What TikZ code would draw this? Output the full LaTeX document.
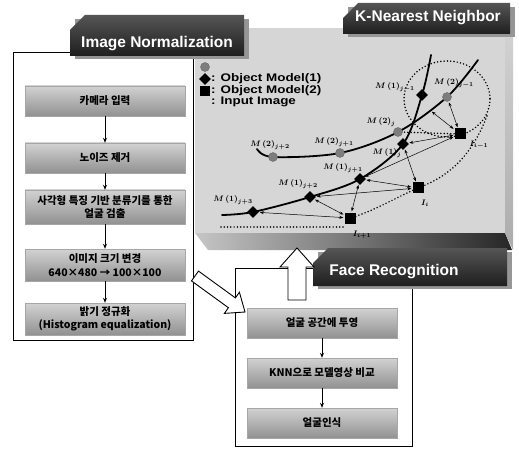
\documentclass[tikz,border=0pt]{standalone}
\usepackage{fontspec}
\usepackage{amsmath}
\usetikzlibrary{arrows.meta,positioning,shapes.geometric,calc}
\newfontfamily\krfont{Noto Sans CJK KR}
\newfontfamily\hdfont{Liberation Sans}
\definecolor{tabDark}{RGB}{30,30,30}
\definecolor{tabTop}{RGB}{85,85,85}
\definecolor{tabShade}{RGB}{150,150,150}
\definecolor{panelGray}{RGB}{214,214,214}
\definecolor{stepLight}{RGB}{210,210,210}
\definecolor{stepDark}{RGB}{145,145,145}
\definecolor{modelTwo}{RGB}{125,125,125}
\newcommand{\headTab}[4]{%
  \fill[tabShade] (#1+5,#2+4) -- (#3+5,#2+4) -- (#3+5,#4+3) -- (#1+5,#4+3) -- cycle;
  \shade[top color=tabTop,bottom color=tabDark] (#1,#4) -- (#1,#2+15) -- (#1+15,#2) -- (#3,#2) -- (#3,#4) -- cycle;}
\newcommand{\legBold}[1]{\scalebox{1.22}[1]{#1}}
\tikzset{
  tabtext/.style={text=white,font=\hdfont\bfseries\fontsize{15.5}{17}\selectfont,inner sep=0pt},
  stepbox/.style={draw=gray!70,top color=stepLight,bottom color=stepDark,minimum width=160pt,minimum height=30pt,
    align=center,inner sep=1pt,font=\krfont\bfseries\fontsize{10.5}{13.5}\selectfont},
  flowarr/.style={-{Stealth[length=5pt,width=4pt]},line width=.9pt},
  bigarr/.style={draw=black,fill=white,line width=.9pt,line join=miter},
  knnarr/.style={{Stealth[length=4pt,width=3pt]}-{Stealth[length=4pt,width=3pt]},line width=.5pt,
    shorten <=1pt,shorten >=1pt},
  dotline/.style={line width=1.7pt,line cap=round,dash pattern=on 0pt off 3.3pt},
  modelline/.style={line width=1.8pt,line cap=round},
  mcirc/.style={circle,fill=modelTwo,draw=black!60,line width=.4pt,minimum size=9pt,inner sep=0pt},
  mdiam/.style={diamond,fill=black,minimum size=12pt,inner sep=0pt},
  msq/.style={rectangle,fill=black,minimum size=11pt,inner sep=0pt},
  mlabel/.style={font=\fontsize{8.5}{9}\selectfont\boldmath,inner sep=0pt},
  legtext/.style={font=\hdfont\bfseries\fontsize{11}{12}\selectfont,anchor=west,inner sep=0pt},
}

\begin{document}
\begin{tikzpicture}[x=1pt,y=-1pt,line cap=butt,line join=miter]
  \useasboundingbox (0,0) rectangle (519,449);
  % cadre de normalisation
  \draw[line width=.9pt] (13,52) rectangle (193,340);
  % panneau K-NN en relief
  \fill[panelGray] (195,28) rectangle (505,233);
  \shade[left color=gray!45,right color=black!85] (195,233) -- (505,233) -- (512,250) -- (208,250) -- cycle;
  \shade[top color=gray!35,bottom color=gray!65] (505,28) -- (513,36) -- (513,250) -- (505,233) -- cycle;
  \headTab{70}{15}{244}{56}
  \node[tabtext] (tNorm) at (157,44) {Image Normalization};
  \headTab{343}{3}{510}{34}
  \node[tabtext] (tKnn) at (428,18) {K-Nearest Neighbor};
  % cadre de reconnaissance
  \draw[line width=.9pt] (235,268) rectangle (412,446);
  \headTab{313}{248}{507}{286}
  \node[tabtext] (tFace) at (394,272) {Face Recognition};

  % etapes de normalisation
  \node[stepbox] (sCam) at (105,101) {카메라 입력};
  \node[stepbox] (sNoise) at (105,158) {노이즈 제거};
  \node[stepbox,minimum height=34pt] (sDetect) at (105,207) {사각형 특징 기반 분류기를 통한\\얼굴 검출};
  \node[stepbox,minimum height=32pt] (sResize) at (105,265) {이미지 크기 변경\\640×480 → 100×100};
  \node[stepbox,minimum height=32pt] (sHist) at (105,319) {밝기 정규화\\(Histogram equalization)};
  \foreach \a/\b in {sCam/sNoise,sNoise/sDetect,sDetect/sResize,sResize/sHist}
    \draw[flowarr] (\a) -- (\b);

  % etapes de reconnaissance
  \node[stepbox,minimum width=150pt] (fProj) at (322,323) {얼굴 공간에 투영};
  \node[stepbox,minimum width=150pt] (fKnn) at (322,373) {KNN으로 모델영상 비교};
  \node[stepbox,minimum width=150pt] (fRec) at (322,423) {얼굴인식};
  \foreach \a/\b in {fProj/fKnn,fKnn/fRec}
    \draw[flowarr] (\a) -- (\b);

  % fleches creuses
  \draw[bigarr] (288,300) -- (288,267) -- (280,267) -- (297,248) -- (314,267) -- (306,267) -- (306,300) -- cycle;
  \draw[bigarr] (191.5,280.9) -- (228.4,307.7) -- (224.4,313.4) -- (245,312) -- (239.4,292.2) -- (235.4,297.9) -- (198.5,271.1) -- cycle;

  % positions dans l'espace K-NN
  \coordinate (pC2) at (273,157);
  \coordinate (pC1) at (340,153);
  \coordinate (pC0) at (398,132);
  \coordinate (pCm) at (447,97);
  \coordinate (pD3) at (253,212);
  \coordinate (pD2) at (310,197);
  \coordinate (pD1) at (360,179);
  \coordinate (pD0) at (403,144);
  \coordinate (pDm) at (422,95);
  \coordinate (pSm) at (460,134);
  \coordinate (pSi) at (418,188);
  \coordinate (pSp) at (350,218);
  \coordinate (pX) at (431,111);
  \coordinate (dA) at (487,116);
  \coordinate (dL) at (220,227);

  \draw[dotline] (447,99) ellipse [x radius=43,y radius=38];
  \draw[dotline] (dA) .. controls (470,160) and (445,178) .. (pSi) .. controls (395,198) and (372,212) .. (pSp);
  \draw[dotline] (343,227) -- (dL);
  \draw[dotline] (pC0) -- (pSm);
  \draw[modelline] plot[smooth,tension=.55] coordinates {(257,149) (pC2) (pC1) (pC0) (pCm) (478,60)};
  \draw[modelline] plot[smooth,tension=.55] coordinates {(222,215) (pD3) (pD2) (pD1) (pD0) (pDm) (431,55)};

  \node[mcirc] (C2) at (pC2) {};
  \node[mcirc] (C1) at (pC1) {};
  \node[mcirc] (C0) at (pC0) {};
  \node[mcirc] (Cm) at (pCm) {};
  \node[mdiam] (D3) at (pD3) {};
  \node[mdiam] (D2) at (pD2) {};
  \node[mdiam] (D1) at (pD1) {};
  \node[mdiam] (D0) at (pD0) {};
  \node[mdiam] (Dm) at (pDm) {};
  \node[msq] (Sm) at (pSm) {};
  \node[msq] (Si) at (pSi) {};
  \node[msq] (Sp) at (pSp) {};

  \foreach \a/\b in {Sp/D3,Sp/D2,Sp/D1,Si/D2,Si/D1,Si/D0,Sm/D1,Sm/D0,Sm/Cm,Sm/pX}
    \draw[knnarr] (\a) -- (\b);

  \node[mlabel] (lC2) at (270,145) {$M\,(2)_{j+2}$};
  \node[mlabel] (lC1) at (334,142) {$M\,(2)_{j+1}$};
  \node[mlabel] (lC0) at (381,122) {$M\,(2)_{j}$};
  \node[mlabel] (lCm) at (454,83) {$M\,(2)_{j-1}$};
  \node[mlabel] (lDm) at (395,87) {$M\,(1)_{j-1}$};
  \node[mlabel] (lD0) at (387,153) {$M\,(1)_{j}$};
  \node[mlabel] (lD1) at (343,168) {$M\,(1)_{j+1}$};
  \node[mlabel] (lD2) at (298,184) {$M\,(1)_{j+2}$};
  \node[mlabel] (lD3) at (233,200) {$M\,(1)_{j+3}$};
  \node[mlabel] (lSm) at (479,145) {$I_{i-1}$};
  \node[mlabel] (lSi) at (425,203) {$I_{i}$};
  \node[mlabel] (lSp) at (362,235) {$I_{i+1}$};

  % legende
  \node[mcirc] (lgC) at (205,67) {};
  \node[mdiam] (lgD) at (205,79) {};
  \node[msq,minimum size=10pt] (lgS) at (205,91) {};
  \node[legtext] (lgT1) at (211,79) {\legBold{: Object Model(1)}};
  \node[legtext] (lgT2) at (211,91) {\legBold{: Object Model(2)}};
  \node[legtext] (lgT3) at (211,102) {\legBold{: Input Image}};
\end{tikzpicture}
\end{document}
